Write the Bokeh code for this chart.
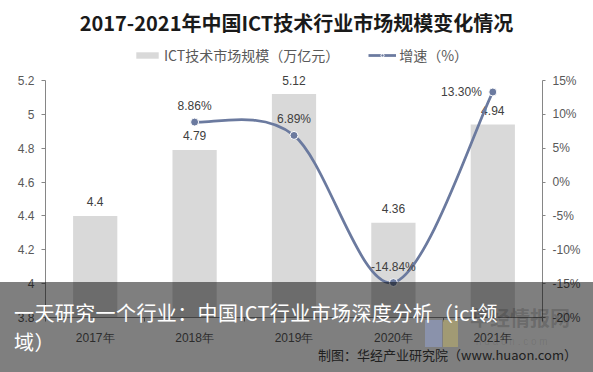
from bokeh.plotting import figure
from bokeh.models import (Range1d, LinearAxis, FixedTicker, PrintfTickFormatter, NumeralTickFormatter,
                          Legend, LegendItem, Label)
from bokeh.core.properties import value
from bokeh.core.templates import get_env
from bokeh.embed import file_html
from bokeh.resources import INLINE

# ---------------- data ----------------
years = ["2017年", "2018年", "2019年", "2020年", "2021年"]
market = [4.4, 4.79, 5.12, 4.36, 4.94]            # 万亿元
growth_years = ["2018年", "2019年", "2020年", "2021年"]
growth = [8.86, 6.89, -14.84, 13.30]              # %
left_ticks = [3.8, 4.0, 4.2, 4.4, 4.6, 4.8, 5.0, 5.2]
right_ticks = [-20, -15, -10, -5, 0, 5, 10, 15]
title_text = "2017-2021年中国ICT技术行业市场规模变化情况"
bar_name = "ICT技术市场规模（万亿元）"
line_name = "增速（%）"
caption_1 = "一天研究一个行业：中国ICT行业市场深度分析（ict领"
caption_2 = "域）"
source_text = "制图：华经产业研究院（www.huaon.com）"
watermark = "华经情报网"
watermark_url = "h u a o n . c o m"

CJK = "Noto Sans CJK SC"
LAT = "Liberation Sans"
BAR_C = "#d9d9d9"
LINE_C = "#6b7a9f"
AX_C = "#868686"
TXT_C = "#595959"

# ---------------- geometry (pixels) ----------------
W, H = 593, 372
AX_TOP, AX_BOTTOM = 80, 317          # where the top / bottom ticks of the value axes sit
LEFT, RIGHT = 45, 542                # plot area left / right edge
frame_h = AX_BOTTOM                  # frame runs from the top of the canvas down to the x axis
span = AX_BOTTOM - AX_TOP
l_lo, l_hi = left_ticks[0], left_ticks[-1]
r_lo, r_hi = right_ticks[0], right_ticks[-1]
l_top = l_lo + (l_hi - l_lo) * frame_h / span
r_top = r_lo + (r_hi - r_lo) * frame_h / span

xs = [i + 1 for i in range(len(years))]
gx = [years.index(y) + 1 for y in growth_years]

p = figure(width=W, height=H, x_range=Range1d(0.5, len(years) + 0.5), y_range=Range1d(l_lo, l_top),
           output_backend="svg", toolbar_location=None,
           min_border_left=LEFT, min_border_right=W - RIGHT, min_border_top=0,
           min_border_bottom=H - AX_BOTTOM)
p.title = None
p.extra_y_ranges = {"g": Range1d(r_lo, r_top)}
p.xgrid.visible = False
p.ygrid.visible = False
p.outline_line_color = None

# x axis
xa = p.xaxis[0]
xa.ticker = FixedTicker(ticks=xs, minor_ticks=[x - 0.5 for x in xs] + [xs[-1] + 0.5])
xa.major_label_overrides = {x: y for x, y in zip(xs, years)}
xa.major_tick_line_color = None
xa.major_tick_out = 0
xa.minor_tick_out = 4
xa.minor_tick_in = 0
xa.minor_tick_line_color = AX_C
xa.axis_line_color = AX_C
xa.major_label_standoff = 9
xa.major_label_text_font = LAT
xa.major_label_text_font_size = "12px"
xa.major_label_text_color = TXT_C

# left axis
ya = p.yaxis[0]
ya.ticker = FixedTicker(ticks=left_ticks)
ya.bounds = (l_lo, l_hi)
ya.formatter = NumeralTickFormatter(format="0.[0]")
ya.axis_line_color = AX_C
ya.major_tick_line_color = AX_C
ya.major_tick_out = 4
ya.major_tick_in = 0
ya.minor_tick_line_color = None
ya.major_label_standoff = 7
ya.major_label_text_font = LAT
ya.major_label_text_font_size = "12px"
ya.major_label_text_color = TXT_C

# right axis
ra = LinearAxis(y_range_name="g", ticker=FixedTicker(ticks=right_ticks), bounds=(r_lo, r_hi),
                formatter=PrintfTickFormatter(format="%d%%"))
ra.axis_line_color = AX_C
ra.major_tick_line_color = AX_C
ra.major_tick_out = 3
ra.major_tick_in = 0
ra.minor_tick_line_color = None
ra.major_label_standoff = 7
ra.major_label_text_font = LAT
ra.major_label_text_font_size = "12px"
ra.major_label_text_color = TXT_C
p.add_layout(ra, "right")

# bars + labels
bars = p.vbar(x=xs, top=market, bottom=l_lo, width=0.445, fill_color=BAR_C, line_color=None)
p.text(x=xs, y=market, text=[f"{v:g}" for v in market], text_align="center", text_baseline="middle",
       y_offset=-14, text_font=value(LAT), text_font_size="12px", text_color="#404040")

# smoothed growth line (Catmull-Rom -> cubic Bezier, computed from the data points)
n = len(gx)
x0, y0, x1, y1, cx0, cy0, cx1, cy1 = [], [], [], [], [], [], [], []
for i in range(n - 1):
    pm = max(i - 1, 0)
    pp = min(i + 2, n - 1)
    x0.append(gx[i]); y0.append(growth[i])
    x1.append(gx[i + 1]); y1.append(growth[i + 1])
    cx0.append(gx[i] + (gx[i + 1] - gx[pm]) / 6.0)
    cy0.append(growth[i] + (growth[i + 1] - growth[pm]) / 6.0)
    cx1.append(gx[i + 1] - (gx[pp] - gx[i]) / 6.0)
    cy1.append(growth[i + 1] - (growth[pp] - growth[i]) / 6.0)
bez = p.bezier(x0=x0, y0=y0, x1=x1, y1=y1, cx0=cx0, cy0=cy0, cx1=cx1, cy1=cy1,
               y_range_name="g", line_color=LINE_C, line_width=2.75)
pts = p.scatter(x=gx, y=growth, y_range_name="g", size=8, fill_color=LINE_C,
                line_color="white", line_width=1)
glabels = [f"{v:.2f}%" for v in growth]
p.text(x=gx[:-1], y=growth[:-1], text=glabels[:-1], y_range_name="g", text_align="center",
       text_baseline="middle", y_offset=-16, text_font=value(LAT), text_font_size="12px",
       text_color="#404040")
p.text(x=gx[-1:], y=growth[-1:], text=glabels[-1:], y_range_name="g", text_align="right",
       text_baseline="middle", x_offset=-11, text_font=value(LAT), text_font_size="12px",
       text_color="#404040")

# title (inside the tall frame, above the value axes)
p.add_layout(Label(x=296 - LEFT, y=AX_BOTTOM - 22, x_units="screen", y_units="screen",
                   text=title_text, text_align="center", text_baseline="middle",
                   text_font=CJK, text_font_style="bold", text_font_size="20px",
                   text_color="#1a1a1a"))

# legend
legend = Legend(items=[LegendItem(label=bar_name, renderers=[bars]),
                       LegendItem(label=line_name, renderers=[bez, pts])],
                location=(133 - LEFT, AX_BOTTOM - 65), orientation="horizontal",
                glyph_width=28, glyph_height=8, label_standoff=3, spacing=29, padding=0, margin=0,
                border_line_color=None, background_fill_alpha=0, label_text_font=CJK,
                label_text_font_size="14px", label_text_color=TXT_C, label_height=14)
p.add_layout(legend, "center")

# dark caption overlay that lies over the bottom of the picture
overlay_html = f"""
<div style="position:absolute;left:0;top:282px;width:593px;height:90px;z-index:10;
            background:rgba(0,0,0,0.5);font-family:'{CJK}',sans-serif;overflow:hidden;">
  <div style="position:absolute;left:425px;top:38px;width:17px;height:27px;background:rgba(150,165,215,0.5);"></div>
  <div style="position:absolute;left:443px;top:38px;width:15px;height:27px;background:rgba(205,188,105,0.45);"></div>
  <div style="position:absolute;left:470px;top:25px;font-size:20px;line-height:22px;font-weight:bold;
              color:rgba(0,0,0,0.18);white-space:nowrap;">{watermark}</div>
  <div style="position:absolute;left:476px;top:54px;font-size:10px;line-height:12px;
              color:rgba(0,0,0,0.10);white-space:nowrap;font-family:'{LAT}';">{watermark_url}</div>
  <div style="position:absolute;right:16px;top:65px;font-size:13px;line-height:16px;
              color:#202020;white-space:nowrap;">{source_text}</div>
  <div style="position:absolute;left:14px;top:19px;font-size:20px;line-height:24px;letter-spacing:0.4px;
              color:white;white-space:nowrap;">{caption_1}</div>
  <div style="position:absolute;left:14px;top:48px;font-size:20px;line-height:24px;letter-spacing:0.4px;
              color:white;white-space:nowrap;">{caption_2}</div>
</div>
"""
page = get_env().from_string(
    '{% extends "file.html" %}{% block contents %}{{ super() }}{{ overlay_html | safe }}{% endblock %}')

open("out.html", "w").write(file_html(p, INLINE, template=page,
                                      template_variables={"overlay_html": overlay_html}))
